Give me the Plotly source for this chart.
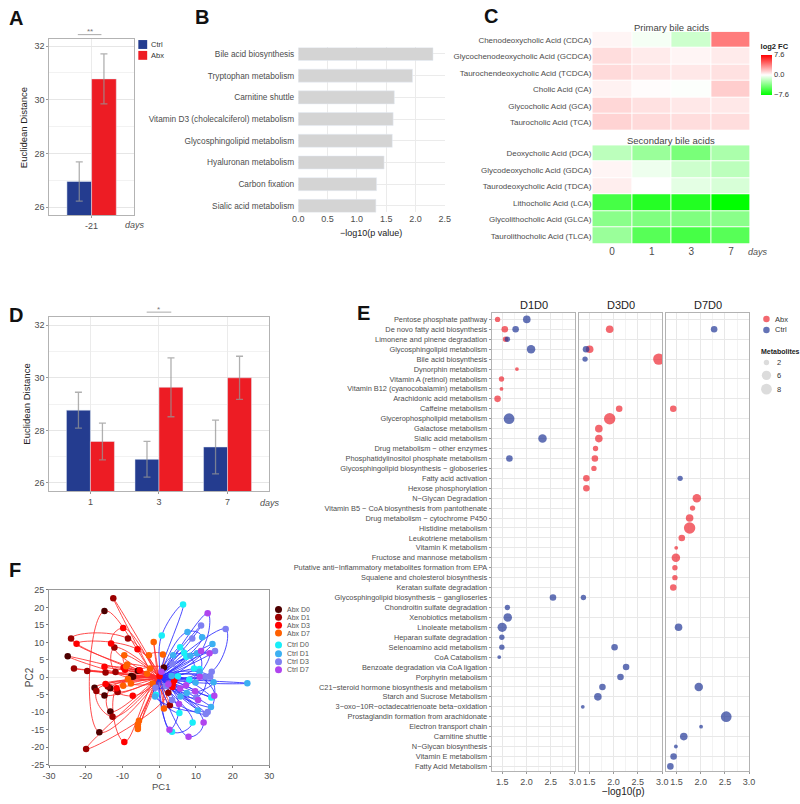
import math
import plotly.graph_objects as go

W, H = 800, 804
FONT = "Liberation Sans, Arial, sans-serif"
GRAY_TXT = "#4d4d4d"

def px(x):
    return x / W

def py(y):
    return 1 - y / H

# ---------------- Panel A data ----------------
a_days = ["-21"]
a_ctrl = [26.96]
a_ctrl_err = [0.73]
a_abx = [30.78]
a_abx_err = [0.93]

# ---------------- Panel B data ----------------
b_pathways = ["Bile acid biosynthesis", "Tryptophan metabolism", "Carnitine shuttle",
              "Vitamin D3 (cholecalciferol) metabolism", "Glycosphingolipid metabolism",
              "Hyaluronan metabolism", "Carbon fixation", "Sialic acid metabolism"]
b_values = [2.30, 1.95, 1.64, 1.62, 1.605, 1.465, 1.337, 1.325]

# ---------------- Panel C data ----------------
c_days = ["0", "1", "3", "7"]
c_primary = ["Chenodeoxycholic Acid (CDCA)", "Glycochenodeoxycholic Acid (GCDCA)",
             "Taurochendeoxycholic Acid (TCDCA)", "Cholic Acid (CA)",
             "Glycocholic Acid (GCA)", "Taurocholic Acid (TCA)"]
c_primary_fc = [[0.3, -0.3, -1.5, 3.9],
                [1.0, 0.6, 0.3, 0.6],
                [1.1, 0.8, 0.7, 0.9],
                [0.4, 0.1, -0.1, 1.5],
                [1.2, 0.9, 0.7, 0.7],
                [1.3, 1.1, 1.0, 1.0]]
c_secondary = ["Deoxycholic Acid (DCA)", "Glycodeoxycholic Acid (GDCA)",
               "Taurodeoxycholic Acid (TDCA)", "Lithocholic Acid (LCA)",
               "Glycolithocholic Acid (GLCA)", "Taurolithocholic Acid (TLCA)"]
c_secondary_fc = [[-2.0, -3.0, -4.0, -2.5],
                  [0.3, -0.5, -1.5, -2.0],
                  [0.5, 0.0, -0.8, -1.2],
                  [-5.5, -6.5, -6.6, -7.6],
                  [-3.5, -3.8, -3.8, -3.5],
                  [-3.0, -5.0, -5.5, -5.0]]

# ---------------- Panel D data ----------------
d_days = ["1", "3", "7"]
d_ctrl = [28.77, 26.90, 27.37]
d_ctrl_err = [0.68, 0.68, 1.02]
d_abx = [27.58, 29.64, 30.00]
d_abx_err = [0.70, 1.12, 0.82]

# ---------------- Panel E data ----------------
e_pathways = [
    "Pentose phosphate pathway", "De novo fatty acid biosynthesis",
    "Limonene and pinene degradation", "Glycosphingolipid metabolism",
    "Bile acid biosynthesis", "Dynorphin metabolism", "Vitamin A (retinol) metabolism",
    "Vitamin B12 (cyanocobalamin) metabolism", "Arachidonic acid metabolism",
    "Caffeine metabolism", "Glycerophospholipid metabolism", "Galactose metabolism",
    "Sialic acid metabolism", "Drug metabolism − other enzymes",
    "Phosphatidylinositol phosphate metabolism",
    "Glycosphingolipid biosynthesis − globoseries", "Fatty acid activation",
    "Hexose phosphorylation", "N−Glycan Degradation",
    "Vitamin B5 − CoA biosynthesis from pantothenate",
    "Drug metabolism − cytochrome P450", "Histidine metabolism",
    "Leukotriene metabolism", "Vitamin K metabolism", "Fructose and mannose metabolism",
    "Putative anti−Inflammatory metabolites formation from EPA",
    "Squalene and cholesterol biosynthesis", "Keratan sulfate degradation",
    "Glycosphingolipid biosynthesis − ganglioseries", "Chondroitin sulfate degradation",
    "Xenobiotics metabolism", "Linoleate metabolism", "Heparan sulfate degradation",
    "Selenoamino acid metabolism", "CoA Catabolism",
    "Benzoate degradation via CoA ligation", "Porphyrin metabolism",
    "C21−steroid hormone biosynthesis and metabolism", "Starch and Sucrose Metabolism",
    "3−oxo−10R−octadecatrienoate beta−oxidation",
    "Prostaglandin formation from arachidonate", "Electron transport chain",
    "Carnitine shuttle", "N−Glycan biosynthesis", "Vitamin E metabolism",
    "Fatty Acid Metabolism"]
e_comparisons = ["D1D0", "D3D0", "D7D0"]

e_abx_d1_path = ["Pentose phosphate pathway", "De novo fatty acid biosynthesis",
                 "Limonene and pinene degradation", "Dynorphin metabolism",
                 "Vitamin A (retinol) metabolism", "Vitamin B12 (cyanocobalamin) metabolism",
                 "Arachidonic acid metabolism"]
e_abx_d1_p = [1.405, 1.554, 1.568, 1.804, 1.486, 1.486, 1.405]
e_abx_d1_n = [2, 3, 2, 1, 2, 1, 3]

e_abx_d3_path = ["De novo fatty acid biosynthesis", "Glycosphingolipid metabolism",
                 "Bile acid biosynthesis", "Caffeine metabolism",
                 "Glycerophospholipid metabolism", "Galactose metabolism",
                 "Sialic acid metabolism", "Drug metabolism − other enzymes",
                 "Phosphatidylinositol phosphate metabolism",
                 "Glycosphingolipid biosynthesis − globoseries", "Fatty acid activation",
                 "Hexose phosphorylation"]
e_abx_d3_p = [1.919, 1.507, 2.932, 2.115, 1.919, 1.696, 1.696, 1.628, 1.615, 1.595, 1.439, 1.439]
e_abx_d3_n = [4, 4, 9, 3, 9, 4, 4, 2, 3, 2, 3, 3]

e_abx_d7_path = ["Caffeine metabolism", "N−Glycan Degradation",
                 "Vitamin B5 − CoA biosynthesis from pantothenate",
                 "Drug metabolism − cytochrome P450", "Histidine metabolism",
                 "Leukotriene metabolism", "Vitamin K metabolism",
                 "Fructose and mannose metabolism",
                 "Putative anti−Inflammatory metabolites formation from EPA",
                 "Squalene and cholesterol biosynthesis", "Keratan sulfate degradation"]
e_abx_d7_p = [1.432, 1.919, 1.831, 1.770, 1.770, 1.608, 1.493, 1.486, 1.466, 1.466, 1.432]
e_abx_d7_n = [3, 5, 2, 4, 9, 3, 1, 5, 2, 2, 3]

e_ctrl_d1_path = ["Pentose phosphate pathway", "De novo fatty acid biosynthesis",
                  "Limonene and pinene degradation", "Glycosphingolipid metabolism",
                  "Glycerophospholipid metabolism", "Sialic acid metabolism",
                  "Phosphatidylinositol phosphate metabolism",
                  "Glycosphingolipid biosynthesis − ganglioseries",
                  "Chondroitin sulfate degradation", "Xenobiotics metabolism",
                  "Linoleate metabolism", "Heparan sulfate degradation",
                  "Selenoamino acid metabolism", "CoA Catabolism"]
e_ctrl_d1_p = [2.007, 1.777, 1.608, 2.095, 1.642, 2.331, 1.649, 2.547, 1.608, 1.615,
               1.500, 1.493, 1.493, 1.439]
e_ctrl_d1_n = [4, 3, 2, 5, 8, 5, 3, 3, 2, 5, 6, 2, 2, 1]

e_ctrl_d3_path = ["Glycosphingolipid metabolism", "Bile acid biosynthesis",
                  "Glycosphingolipid biosynthesis − ganglioseries",
                  "Selenoamino acid metabolism", "Benzoate degradation via CoA ligation",
                  "Porphyrin metabolism", "C21−steroid hormone biosynthesis and metabolism",
                  "Starch and Sucrose Metabolism",
                  "3−oxo−10R−octadecatrienoate beta−oxidation"]
e_ctrl_d3_p = [1.432, 1.412, 1.378, 2.020, 2.257, 2.142, 1.770, 1.676, 1.365]
e_ctrl_d3_n = [3, 2, 2, 3, 3, 3, 3, 4, 1]

e_ctrl_d7_path = ["De novo fatty acid biosynthesis", "Fatty acid activation",
                  "Linoleate metabolism", "C21−steroid hormone biosynthesis and metabolism",
                  "Prostaglandin formation from arachidonate", "Electron transport chain",
                  "Carnitine shuttle", "N−Glycan biosynthesis", "Vitamin E metabolism",
                  "Fatty Acid Metabolism"]
e_ctrl_d7_p = [2.277, 1.574, 1.541, 1.959, 2.527, 2.007, 1.649, 1.486, 1.439, 1.372]
e_ctrl_d7_n = [3, 2, 4, 5, 8, 1, 4, 1, 3, 3]

e_size_legend = [2, 6, 8]

# ---------------- Panel F data ----------------
f_groups = ["Abx D0", "Abx D1", "Abx D3", "Abx D7", "Ctrl D0", "Ctrl D1", "Ctrl D3", "Ctrl D7"]
f_abx_d0_x = [1.3, -14.9, -24.9, -17.6, -14.9, -13.3, -16.3, -7.1, -7.6, -13.3, -5.8]
f_abx_d0_y = [2.8, 19.0, 6.0, -3.0, -5.2, -9.8, -15.7, 0.2, 0.4, -3.1, 1.9]
f_abx_d1_x = [-12.5, -8.5, -24.0, -12.2, -23.2, -19.6, -14.6, -11.9, -14.0, -11.3, -17.1, -12.7, -19.9, 2.5, 2.9]
f_abx_d1_y = [22.6, 11.1, 11.1, 8.5, 2.5, 1.8, 1.4, 1.5, -2.6, -4.2, -3.9, -11.3, -20.5, -4.4, -8.0]
f_abx_d3_x = [-9.8, -22.5, -13.1, -5.9, -14.9, -9.7, -9.3, -5.3, -14.6, -11.6, -7.2, -9.5, 0.1, 4.1, 3.7, 3.6]
f_abx_d3_y = [14.1, 9.6, 9.7, 8.0, 3.0, 2.8, 2.2, 2.0, -1.9, -3.1, -5.3, -18.5, 0.3, -0.9, -1.9, -2.8]
f_abx_d7_x = [-1.5, -2.8, -9.5, -8.7, -9.0, -2.5, -3.3, -8.5, -7.7, -9.8, -1.8, -5.5, -5.8, -5.8, -5.8, 1.0, 1.3]
f_abx_d7_y = [10.1, 6.3, 6.3, 3.7, 3.2, 2.5, 1.0, -0.5, -1.8, -2.4, -1.8, -12.4, -13.4, -14.2, -14.8, 6.5, -8.9]
f_ctrl_d0_x = [0.7, 6.5, 5.7, 6.8, 7.4, 9.5, 11.0, 5.1, -0.9, 5.5, 9.1, 3.5, 14.2, 8.2]
f_ctrl_d0_y = [12.0, 20.8, 8.6, 7.0, 5.9, 2.5, 2.4, 0.3, -5.0, -10.2, -12.9, -15.6, -5.8, -0.7]
f_ctrl_d1_x = [11.7, 7.7, 8.5, 3.8, 10.3, 14.5, 11.0, 24.0, 14.8, 10.5, 14.1, 9.9, 3.4, 7.5, 5.8, -1.1]
f_ctrl_d1_y = [11.5, 13.0, 6.2, 6.3, 6.9, 9.5, 1.6, -1.7, -1.4, -9.5, -8.5, -1.5, 0.4, -4.5, -5.5, -5.5]
f_ctrl_d3_x = [11.4, 18.1, 9.0, 15.2, 14.3, 13.9, 12.5, 3.6, 3.5, -1.0, 13.2, 12.7, 10.1, 1.8]
f_ctrl_d3_y = [14.8, 13.8, 11.1, 7.5, 1.6, 0.2, 0.2, 3.8, -6.5, -3.0, -9.9, -10.5, -5.8, -2.5]
f_ctrl_d7_x = [13.2, 11.4, 13.7, 15.0, 11.0, 10.6, 12.1, 8.0, 2.8, 2.5, 5.7, 7.3, 5.4, 0.6, 9.8]
f_ctrl_d7_y = [18.3, 7.5, 6.9, -5.3, 0.2, -6.5, -12.9, -17.0, -15.0, -2.0, -3.2, -2.3, -7.6, 1.6, -4.0]
f_xticks = [-30, -20, -10, 0, 10, 20, 30]
f_xticktext = ["-30", "-20", "-10", "0", "10", "20", "30"]
f_yticks = [-25, -20, -15, -10, -5, 0, 5, 10, 15, 20, 25]
f_yticktext = ["-25", "-20", "-15", "-10", "-5", "0", "5", "10", "15", "20", "25"]

# ---------------- styles ----------------
CTRL_BAR = "#243c8f"
ABX_BAR = "#ed1c24"
ERR = dict(type="data", color="rgba(150,150,150,0.75)", thickness=1.3, width=3.5)
E_RED = "rgb(238,40,50)"
E_BLUE = "rgb(34,55,151)"
F_COLORS = ["#4d0000", "#9b0000", "#ff0000", "#ff6000",
            "#19eef8", "#3cb0f2", "#7f80f2", "#b044ee"]
F_LINE_ABX = "rgba(255,45,45,0.85)"
F_LINE_CTRL = "rgba(45,45,255,0.85)"

def msize(n):
    return 3.8 * math.sqrt(n)

fig = go.Figure()

# ---- Panel A ----
fig.add_trace(go.Bar(x=a_days, y=a_ctrl, error_y=dict(array=a_ctrl_err, **ERR),
                     marker_color=CTRL_BAR, name="Ctrl", xaxis="x", yaxis="y", showlegend=False))
fig.add_trace(go.Bar(x=a_days, y=a_abx, error_y=dict(array=a_abx_err, **ERR),
                     marker_color=ABX_BAR, name="Abx", xaxis="x", yaxis="y", showlegend=False))

# ---- Panel B ----
fig.add_trace(go.Bar(x=b_values, y=b_pathways, orientation="h", width=0.6,
                     marker_color="#d4d4d4", xaxis="x2", yaxis="y2", showlegend=False))

# ---- Panel C ----
fig.add_trace(go.Heatmap(x=c_days, y=c_primary, z=c_primary_fc, coloraxis="coloraxis",
                         xgap=1, ygap=1, xaxis="x3", yaxis="y3"))
fig.add_trace(go.Heatmap(x=c_days, y=c_secondary, z=c_secondary_fc, coloraxis="coloraxis",
                         xgap=1, ygap=1, xaxis="x4", yaxis="y4"))

# ---- Panel D ----
fig.add_trace(go.Bar(x=d_days, y=d_ctrl, error_y=dict(array=d_ctrl_err, **ERR),
                     marker_color=CTRL_BAR, xaxis="x5", yaxis="y5", showlegend=False))
fig.add_trace(go.Bar(x=d_days, y=d_abx, error_y=dict(array=d_abx_err, **ERR),
                     marker_color=ABX_BAR, xaxis="x5", yaxis="y5", showlegend=False))

# ---- Panel E ----
e_sets = [
    ("x6", "y6", e_abx_d1_path, e_abx_d1_p, e_abx_d1_n, e_ctrl_d1_path, e_ctrl_d1_p, e_ctrl_d1_n),
    ("x7", "y7", e_abx_d3_path, e_abx_d3_p, e_abx_d3_n, e_ctrl_d3_path, e_ctrl_d3_p, e_ctrl_d3_n),
    ("x8", "y8", e_abx_d7_path, e_abx_d7_p, e_abx_d7_n, e_ctrl_d7_path, e_ctrl_d7_p, e_ctrl_d7_n),
]
for xa, ya, ap, av, an, cp, cv, cn in e_sets:
    fig.add_trace(go.Scatter(x=av, y=ap, mode="markers", xaxis=xa, yaxis=ya, showlegend=False,
                             marker=dict(color=E_RED, opacity=0.7, size=[msize(n) for n in an],
                                         line=dict(width=0))))
    fig.add_trace(go.Scatter(x=cv, y=cp, mode="markers", xaxis=xa, yaxis=ya, showlegend=False,
                             marker=dict(color=E_BLUE, opacity=0.7, size=[msize(n) for n in cn],
                                         line=dict(width=0))))

# ---- Panel F ----
f_data = [(f_abx_d0_x, f_abx_d0_y), (f_abx_d1_x, f_abx_d1_y), (f_abx_d3_x, f_abx_d3_y),
          (f_abx_d7_x, f_abx_d7_y), (f_ctrl_d0_x, f_ctrl_d0_y), (f_ctrl_d1_x, f_ctrl_d1_y),
          (f_ctrl_d3_x, f_ctrl_d3_y), (f_ctrl_d7_x, f_ctrl_d7_y)]

def petal_path(xs, ys):
    # connect points in pairs (i, i+2) of angular order, each pair looping from the origin
    pts = sorted(zip(xs, ys), key=lambda p: math.atan2(p[1], p[0]))
    n = len(pts)
    order = []
    i = 0
    while i < n:
        block = list(range(i, min(i + 4, n)))
        if len(block) == 4:
            order += [(block[0], block[2]), (block[1], block[3])]
        else:
            for j in range(0, len(block), 2):
                order.append(tuple(block[j:j + 2]))
        i += 4
    lx, ly = [0], [0]
    for pair in order:
        for k in pair:
            lx.append(pts[k][0]); ly.append(pts[k][1])
        lx.append(0); ly.append(0)
    return lx, ly

for i, (xs, ys) in enumerate(f_data):
    lx, ly = petal_path(xs, ys)
    fig.add_trace(go.Scatter(x=lx, y=ly, mode="lines", xaxis="x9", yaxis="y9", showlegend=False,
                             line=dict(color=F_LINE_ABX if i < 4 else F_LINE_CTRL, width=1,
                                       shape="spline", smoothing=1.3), hoverinfo="skip"))
for i, (xs, ys) in enumerate(f_data):
    fig.add_trace(go.Scatter(x=xs, y=ys, mode="markers", xaxis="x9", yaxis="y9", showlegend=False,
                             name=f_groups[i],
                             marker=dict(color=F_COLORS[i], size=6.5, line=dict(width=0))))

# ---------------- axes ----------------
tickf = dict(family=FONT, size=9, color=GRAY_TXT)
border = dict(showline=True, mirror=True, linecolor="#b3b3b3", linewidth=1)

lay = dict(
    width=W, height=H, autosize=False,
    margin=dict(l=0, r=0, t=0, b=0),
    paper_bgcolor="white", plot_bgcolor="white",
    font=dict(family=FONT, color=GRAY_TXT),
    barmode="group", bargap=0.3, bargroupgap=0,
    showlegend=False,
)

# A
lay["xaxis"] = dict(domain=[px(43), px(129)], anchor="y", type="category", range=[-0.6, 0.6],
                    showgrid=True, gridcolor="#ebebeb", tickfont=tickf, ticks="outside",
                    ticklen=2, tickcolor="#999", **border)
lay["yaxis"] = dict(domain=[py(213), py(34)], anchor="x", range=[25.7, 32.28],
                    tickvals=[26, 28, 30, 32], showgrid=True, gridcolor="#e6e6e6",
                    minor=dict(tickvals=[27, 29, 31], showgrid=True, gridcolor="#f2f2f2"),
                    zeroline=False, tickfont=tickf, ticks="outside", ticklen=2,
                    tickcolor="#999", **border)
# B
lay["xaxis2"] = dict(domain=[px(296), px(445)], anchor="y2", range=[0, 2.5], dtick=0.5,
                     tickformat=".1f", showgrid=True, gridcolor="#ebebeb", zeroline=False,
                     tickfont=tickf, showline=False)
lay["yaxis2"] = dict(domain=[py(210), py(43)], anchor="x2", type="category",
                     categoryarray=b_pathways, range=[7.3, -0.3], showgrid=True,
                     gridcolor="#ebebeb", tickfont=dict(family=FONT, size=8.3, color=GRAY_TXT),
                     ticks="", ticklabelstandoff=3)
# C
lay["xaxis3"] = dict(domain=[px(595), px(756)], anchor="y3", type="category",
                     showticklabels=False, showgrid=False, zeroline=False, showline=False)
lay["yaxis3"] = dict(domain=[py(127), py(27)], anchor="x3", type="category",
                     categoryarray=c_primary, autorange="reversed", showgrid=False,
                     tickfont=dict(family=FONT, size=8, color=GRAY_TXT), ticks="")
lay["xaxis4"] = dict(domain=[px(595), px(756)], anchor="y4", type="category",
                     showgrid=False, zeroline=False, showline=False,
                     tickfont=dict(family=FONT, size=10, color=GRAY_TXT), ticks="")
lay["yaxis4"] = dict(domain=[py(242), py(142)], anchor="x4", type="category",
                     categoryarray=c_secondary, autorange="reversed", showgrid=False,
                     tickfont=dict(family=FONT, size=8, color=GRAY_TXT), ticks="")
lay["coloraxis"] = dict(
    colorscale=[[0, "#00ff00"], [0.5, "#ffffff"], [1, "#ff0000"]], cmin=-7.6, cmax=7.6,
    colorbar=dict(x=px(766), xanchor="left", xpad=0, ypad=0, y=py(36), yanchor="top", len=54,
                  lenmode="pixels", thickness=11, outlinewidth=0,
                  tickvals=[-7.6, 0, 7.6], ticktext=["−7.6", "0.0", "7.6"], ticks="",
                  tickfont=dict(family=FONT, size=7.5, color="#333"),
                  title=dict(text="<b>log2 FC</b>", side="top",
                             font=dict(family=FONT, size=7.5, color="#222"))))
# D
lay["xaxis5"] = dict(domain=[px(43), px(266)], anchor="y5", type="category", range=[-0.6, 2.6],
                     showgrid=True, gridcolor="#ebebeb", tickfont=tickf, ticks="outside",
                     ticklen=2, tickcolor="#999", **border)
lay["yaxis5"] = dict(domain=[py(492), py(316)], anchor="x5", range=[25.7, 32.31],
                     tickvals=[26, 28, 30, 32], showgrid=True, gridcolor="#e6e6e6",
                     minor=dict(tickvals=[27, 29, 31], showgrid=True, gridcolor="#f2f2f2"),
                     zeroline=False, tickfont=tickf, ticks="outside", ticklen=2,
                     tickcolor="#999", **border)
# E
e_xdom = [[492.7, 577.7], [581.3, 666.3], [670.0, 754.7]]
for k, (x0, x1) in enumerate(e_xdom):
    xn = "xaxis%d" % (6 + k)
    yn = "yaxis%d" % (6 + k)
    lay[xn] = dict(domain=[px(x0), px(x1)], anchor="y%d" % (6 + k), range=[1.284, 3.007],
                   dtick=0.5, tick0=0, tickformat=".1f", showgrid=True, gridcolor="#e8e8e8",
                   minor=dict(dtick=0.25, tick0=0, showgrid=True, gridcolor="#f3f3f3"),
                   zeroline=False, tickfont=tickf, ticks="outside", ticklen=2,
                   tickcolor="#999", **border)
    ycfg = dict(domain=[py(776), py(312.3)], anchor="x%d" % (6 + k), type="category",
                categoryarray=e_pathways, range=[45.5, -0.6], showgrid=True,
                gridcolor="#e8e8e8", ticks="outside" if k == 0 else "", ticklen=2,
                tickcolor="#999", tickfont=dict(family=FONT, size=7.4, color=GRAY_TXT),
                showticklabels=(k == 0), **border)
    if k > 0:
        ycfg["matches"] = "y6"
    lay[yn] = ycfg
# F
lay["xaxis9"] = dict(domain=[px(42.7), px(266.7)], anchor="y9", range=[-30, 30],
                     tickvals=f_xticks, ticktext=f_xticktext, showgrid=False, zeroline=True,
                     zerolinecolor="#eeeeee", zerolinewidth=1, tickfont=tickf,
                     ticks="outside", ticklen=2, tickcolor="#777", showline=True, mirror=True,
                     linecolor="#999", linewidth=1)
lay["yaxis9"] = dict(domain=[py(769.3), py(592.3)], anchor="x9", range=[-25, 25],
                     tickvals=f_yticks, ticktext=f_yticktext, showgrid=False, zeroline=True,
                     zerolinecolor="#eeeeee", zerolinewidth=1, tickfont=tickf,
                     ticks="outside", ticklen=2, tickcolor="#777", showline=True, mirror=True,
                     linecolor="#999", linewidth=1)

fig.update_layout(**lay)

# ---------------- annotations / legends ----------------
ann = []
shapes = []

def text(x, y, s, size=9, color=GRAY_TXT, anchor="center", bold=False, italic=False, angle=0):
    if bold:
        s = "<b>%s</b>" % s
    if italic:
        s = "<i>%s</i>" % s
    ann.append(dict(x=px(x), y=py(y), xref="paper", yref="paper", text=s, showarrow=False,
                    xanchor=anchor, yanchor="middle", textangle=angle,
                    font=dict(family=FONT, size=size, color=color)))

# panel letters
for letter, (lx, ly) in {"A": (9, 13), "B": (198, 12), "C": (492, 11), "D": (9, 314),
                         "E": (362, 312), "F": (8, 572)}.items():
    text(lx, ly, letter, size=20, color="#111", bold=True)

# axis titles
text(17, 124, "Euclidean Distance", size=9.5, color="#222", angle=-90)
text(20, 404, "Euclidean Distance", size=9.5, color="#222", angle=-90)
text(130, 223, "days", size=9, italic=True)
text(267, 504, "days", size=9, italic=True)
text(763, 250, "days", size=9, italic=True)
text(370, 231, "−log10(p value)", size=9, color="#222")
text(627, 796, "−log10(p)", size=10, color="#222")
text(23, 681, "PC2", size=10, color=GRAY_TXT, angle=-90)
text(157, 791, "PC1", size=9.5, color=GRAY_TXT)

# C facet titles
text(675, 23, "Primary bile acids", size=9.5, color="#444")
text(675, 137, "Secondary bile acids", size=9.5, color="#444")

# E strip titles
for (x0, x1), lab in zip(e_xdom, e_comparisons):
    text((x0 + x1) / 2, 304, lab, size=11, color="#222")

# significance
shapes.append(dict(type="line", xref="paper", yref="paper", x0=px(72), x1=px(96),
                   y0=py(30), y1=py(30), line=dict(color="#aaaaaa", width=1)))
text(84, 27, "**", size=8, color="#777")
shapes.append(dict(type="line", xref="paper", yref="paper", x0=px(142), x1=px(167),
                   y0=py(311), y1=py(311), line=dict(color="#aaaaaa", width=1)))
text(154.5, 308, "*", size=8, color="#777")

# legend A
for lab, col, yc in [("Ctrl", CTRL_BAR, 40), ("Abx", ABX_BAR, 51)]:
    shapes.append(dict(type="rect", xref="paper", yref="paper", x0=px(133.5), x1=px(142.5),
                       y0=py(yc + 4.5), y1=py(yc - 4.5), fillcolor=col, line=dict(width=0)))
    text(144.5, yc, lab, size=7.5, color="#333", anchor="left")

def circle(cx, cy, d, col, opacity=1.0):
    r = d / 2.0
    shapes.append(dict(type="circle", xref="paper", yref="paper", xsizemode="pixel",
                       ysizemode="pixel", xanchor=px(cx), yanchor=py(cy), x0=-r, x1=r,
                       y0=-r, y1=r, fillcolor=col, opacity=opacity, line=dict(width=0)))

# legend E
circle(772, 318, 6.5, E_RED, 0.7)
text(779, 318, "Abx", size=7.5, color="#333", anchor="left")
circle(772, 329, 6.5, E_BLUE, 0.7)
text(779, 329, "Ctrl", size=7.5, color="#333", anchor="left")
text(764, 351, "Metabolites", size=7, color="#222", anchor="left", bold=True)
for n, yc in zip(e_size_legend, [362, 375, 389]):
    circle(772, yc, msize(n), "#dcdcdc")
    text(781, yc, str(n), size=7.5, color="#333", anchor="left")

# legend F
f_leg_y = [612, 620, 628, 636, 648, 657, 665, 673]
for lab, col, yc in zip(f_groups, F_COLORS, f_leg_y):
    circle(276, yc, 7, col)
    text(282.5, yc, lab, size=7, color="#555", anchor="left")

fig.update_layout(annotations=ann, shapes=shapes)
fig.write_html("out.html", config={"displayModeBar": False},
               post_script="document.body.style.margin='0';document.body.style.padding='0';")
